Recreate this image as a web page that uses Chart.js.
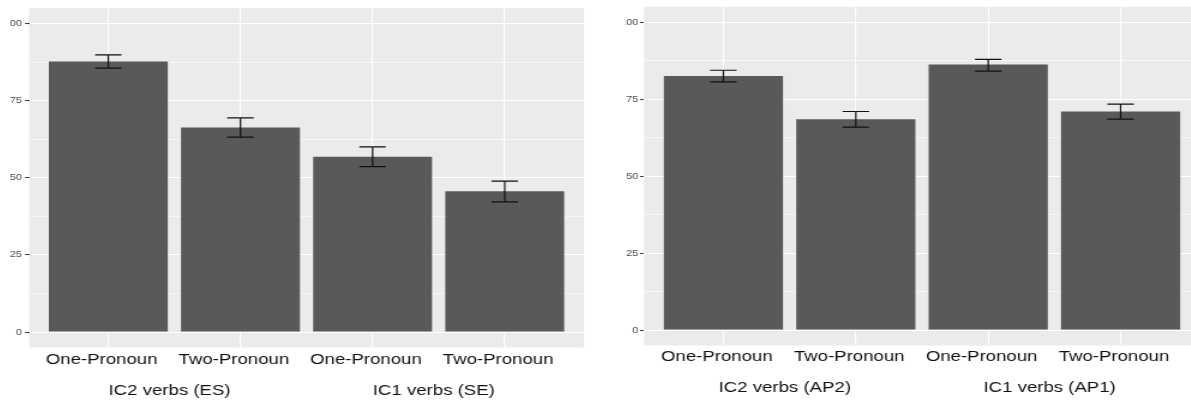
<!DOCTYPE html>
<html>
<head>
<meta charset="utf-8">
<script src="https://cdn.jsdelivr.net/npm/chart.js@4.4.1/dist/chart.umd.min.js"></script>
<style>
  html, body { margin: 0; padding: 0; background: #ffffff; width: 1191px; height: 400px; overflow: hidden; }
  .panel { position: absolute; top: 0; height: 400px; overflow: hidden; }
  .panel canvas { position: absolute; top: 0; transform: scaleX(1.2); transform-origin: 0 0; }
</style>
</head>
<body>
<div class="panel" id="wrapLeft" style="left:10px;width:590px;"><canvas id="chartLeft" width="500" height="400" style="left:-20px;"></canvas></div>
<div class="panel" id="wrapRight" style="left:625px;width:566px;"><canvas id="chartRight" width="500" height="400" style="left:-21px;"></canvas></div>
<script>
// Categories along the x axis (same order in both panels)
const categories = ['One-Pronoun', 'Two-Pronoun', 'One-Pronoun', 'Two-Pronoun'];

// Verb-group labels, each spanning two categories
const leftGroups = ['IC2 verbs (ES)', 'IC1 verbs (SE)'];
const rightGroups = ['IC2 verbs (AP2)', 'IC1 verbs (AP1)'];

// Percent correct: means with lower / upper error-bar limits
const leftMeans = [87.7, 66.3, 56.8, 45.6];
const leftLower = [85.5, 63.2, 53.6, 42.2];
const leftUpper = [89.8, 69.4, 60.0, 48.9];

const rightMeans = [82.5, 68.5, 86.3, 71.0];
const rightLower = [80.6, 65.9, 84.1, 68.5];
const rightUpper = [84.4, 71.0, 87.9, 73.4];

// Y axis: labelled (major) ticks and unlabelled minor grid positions
const yMajorTicks = [0, 25, 50, 75, 100];
const yMinorTicks = [12.5, 37.5, 62.5, 87.5];

const PANEL_BG = '#EBEBEB';
const BAR_FILL = '#595959';

// Grey panel background behind the grid
const panelBackground = {
  id: 'panelBackground',
  beforeDraw(chart) {
    const { ctx, chartArea: a } = chart;
    ctx.save();
    ctx.fillStyle = PANEL_BG;
    ctx.fillRect(a.left, a.top, a.right - a.left, a.bottom - a.top);
    ctx.restore();
  }
};

// Error bars with caps, positioned through the chart scales
const errorBars = {
  id: 'errorBars',
  afterDatasetsDraw(chart, args, opts) {
    const { ctx } = chart;
    const xs = chart.scales.x, ys = chart.scales.y;
    ctx.save();
    ctx.strokeStyle = opts.color;
    ctx.lineWidth = 1.2;
    opts.lower.forEach((lo, i) => {
      const hi = opts.upper[i];
      const xc = xs.getPixelForValue(i + 1);
      const x0 = xs.getPixelForValue(i + 1 - opts.capWidth / 2);
      const x1 = xs.getPixelForValue(i + 1 + opts.capWidth / 2);
      const yLo = ys.getPixelForValue(lo);
      const yHi = ys.getPixelForValue(hi);
      ctx.beginPath();
      ctx.moveTo(xc, yLo); ctx.lineTo(xc, yHi);
      ctx.moveTo(x0, yLo); ctx.lineTo(x1, yLo);
      ctx.moveTo(x0, yHi); ctx.lineTo(x1, yHi);
      ctx.stroke();
    });
    ctx.restore();
  }
};

// Second row of x labels: one per pair of categories
const groupLabels = {
  id: 'groupLabels',
  afterDraw(chart, args, opts) {
    const { ctx } = chart;
    const xs = chart.scales.x;
    ctx.save();
    ctx.font = opts.font;
    ctx.fillStyle = opts.color;
    ctx.textAlign = 'center';
    ctx.textBaseline = 'middle';
    opts.labels.forEach((label, g) => {
      const a = xs.getPixelForValue(g * 2 + 1);
      const b = xs.getPixelForValue(g * 2 + 2);
      ctx.fillText(label, (a + b) / 2 + opts.shift, opts.y);
    });
    ctx.restore();
  }
};

function makeChart(canvasId, cfg) {
  return new Chart(document.getElementById(canvasId), {
    type: 'bar',
    data: {
      datasets: [{
        data: cfg.means.map((v, i) => ({ x: i + 1, y: v })),
        backgroundColor: BAR_FILL,
        borderWidth: 0,
        barPercentage: 0.9,
        categoryPercentage: 1.0
      }]
    },
    options: {
      responsive: false,
      animation: false,
      events: [],
      layout: { padding: { top: cfg.padTop, right: cfg.padRight, left: 0, bottom: 0 } },
      plugins: {
        legend: { display: false },
        tooltip: { enabled: false },
        errorBars: { lower: cfg.lower, upper: cfg.upper, capWidth: 0.2, color: '#111111' },
        groupLabels: { labels: cfg.groups, y: cfg.groupY, shift: -4, font: '15.5px "Liberation Sans", Arial, sans-serif', color: '#111111' }
      },
      scales: {
        x: {
          type: 'linear',
          offset: false,
          min: 0.4,
          max: 4.6,
          afterBuildTicks: (scale) => { scale.ticks = categories.map((c, i) => ({ value: i + 1 })); },
          afterFit: (scale) => { scale.height = cfg.xAxisHeight; },
          ticks: {
            autoSkip: false,
            maxRotation: 0,
            padding: cfg.xLabelPad,
            labelOffset: -5.5,
            color: '#111111',
            font: { family: '"Liberation Sans", Arial, sans-serif', size: 15.5 },
            callback: (v) => categories[Math.round(v) - 1]
          },
          grid: { color: '#FFFFFF', lineWidth: 1.1, drawTicks: false, offset: false },
          border: { display: false }
        },
        y: {
          min: -5,
          max: 105,
          afterBuildTicks: (scale) => {
            scale.ticks = yMajorTicks.concat(yMinorTicks).sort((a, b) => a - b).map(v => ({ value: v }));
          },
          afterFit: (scale) => { scale.width = cfg.yAxisWidth; },
          ticks: {
            padding: cfg.yLabelPad,
            color: '#4D4D4D',
            font: { family: '"Liberation Sans", Arial, sans-serif', size: 9.2 },
            callback: (v) => yMajorTicks.includes(v) ? String(v) : ''
          },
          grid: {
            color: '#FFFFFF',
            lineWidth: (c) => yMajorTicks.includes(c.tick.value) ? 1.1 : 0.55,
            tickColor: (c) => yMajorTicks.includes(c.tick.value) ? '#333333' : 'rgba(0,0,0,0)',
            tickWidth: 1,
            tickLength: 3.3,
            drawTicks: true
          },
          border: { display: false }
        }
      }
    },
    plugins: [panelBackground, errorBars, groupLabels]
  });
}

makeChart('chartLeft', {
  means: leftMeans, lower: leftLower, upper: leftUpper, groups: leftGroups,
  padTop: 5.45, padRight: 5, yAxisWidth: 32.5, xAxisHeight: 52.45,
  xLabelPad: 3.2, yLabelPad: 2.5, groupY: 391
});

makeChart('chartRight', {
  means: rightMeans, lower: rightLower, upper: rightUpper, groups: rightGroups,
  padTop: 5.55, padRight: 3.3, yAxisWidth: 33.3, xAxisHeight: 54.55,
  xLabelPad: 2.2, yLabelPad: 1.3, groupY: 388
});
</script>
</body>
</html>
